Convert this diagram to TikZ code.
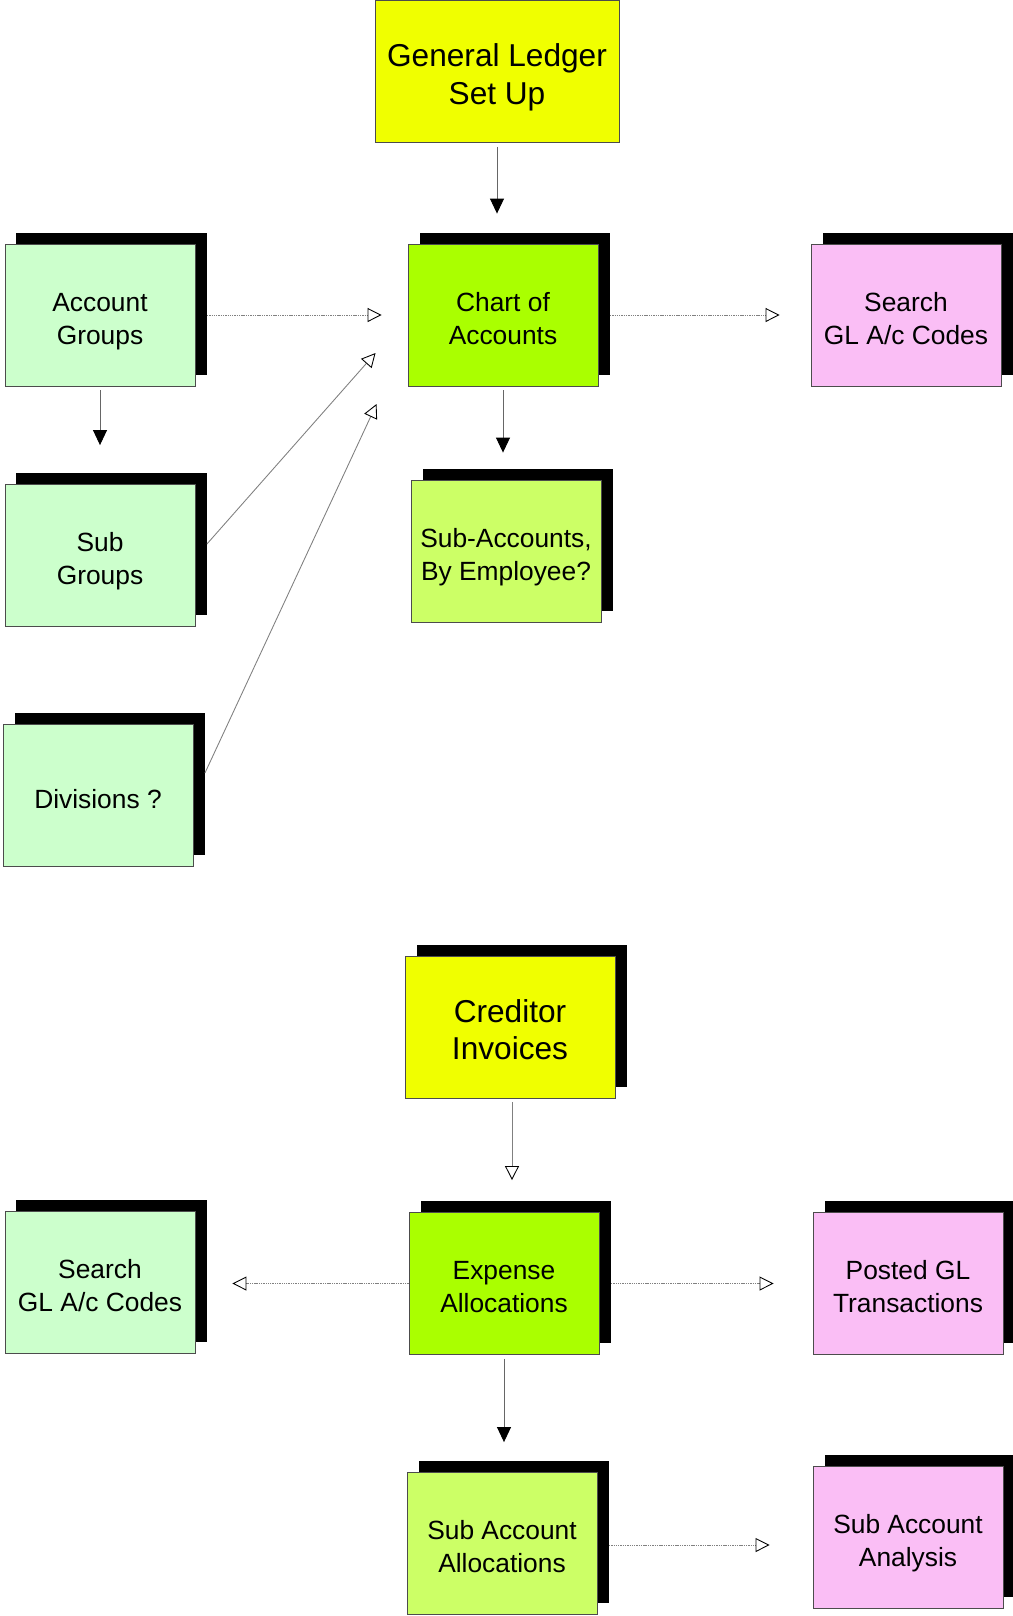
\documentclass[tikz,border=0pt]{standalone}
\usepackage{fontspec}
\setmainfont{Liberation Sans}
\usetikzlibrary{arrows.meta,shadows}
\definecolor{setupyellow}{RGB}{240,255,0}
\definecolor{chartgreen}{RGB}{170,255,0}
\definecolor{palegreen}{RGB}{204,255,204}
\definecolor{limegreen}{RGB}{204,255,102}
\definecolor{outputpink}{RGB}{250,190,245}
\begin{document}
\begin{tikzpicture}[
        card/.style={draw=black!70, line width=0.5pt, minimum width=3.8cm, minimum height=2.84cm,
            align=center, inner sep=0pt, font=\fontsize{15}{19}\selectfont,
            text height=37pt, text depth=3.5pt},
        oneline/.style={text height=18pt},
        bigcard/.style={card, font=\fontsize{18}{21.6}\selectfont, text height=41.7pt, text depth=4.2pt},
        shadowed/.style={drop shadow={shadow xshift=0.23cm, shadow yshift=0.23cm, fill=black, opacity=1}},
        solidlink/.style={draw=black!60, line width=0.5pt, -{Triangle[length=0.3cm, width=0.28cm, color=black]}},
        openlink/.style={draw=black!50, line width=0.5pt, -{Triangle[open, length=0.28cm, width=0.28cm, color=black]}},
        dotlink/.style={openlink, dash pattern=on 0.8pt off 0.5pt}
    ]
        \useasboundingbox (0, 0) rectangle (20.26, -32.32);

        % General ledger set up
        \node[bigcard, fill=setupyellow, minimum width=4.88cm] (setup) at (9.94, -1.43) {General Ledger\\Set Up};
        \node[card, shadowed, fill=palegreen] (groups) at (2.00, -6.30) {Account\\Groups};
        \node[card, shadowed, fill=chartgreen] (chart) at (10.06, -6.30) {Chart of\\Accounts};
        \node[card, shadowed, fill=outputpink] (searchtop) at (18.12, -6.30) {Search\\GL A/c Codes};
        \node[card, shadowed, fill=palegreen] (subgroups) at (2.00, -11.11) {Sub\\Groups};
        \node[card, shadowed, fill=limegreen] (subaccounts) at (10.12, -11.02) {Sub-Accounts,\\By Employee?};
        \node[card, oneline, shadowed, fill=palegreen] (divisions) at (1.96, -15.91) {Divisions ?};

        \draw[solidlink, shorten <=0.08cm, shorten >=0.6cm] (setup.south) -- (setup.south |- chart.north);
        \draw[dotlink, shorten >=0.52cm] ([xshift=0.23cm]groups.east) -- (chart.west);
        \draw[dotlink, shorten >=0.62cm] ([xshift=0.23cm]chart.east) -- (searchtop.west);
        \draw[solidlink, shorten <=0.08cm, shorten >=0.78cm] (groups.south) -- (groups.south |- subgroups.north);
        \draw[solidlink, shorten <=0.08cm, shorten >=0.54cm] (chart.south) -- (chart.south |- subaccounts.north);
        \draw[openlink] ([shift={(0.23, 0.23)}]subgroups.east) -- ([shift={(-0.64, -0.76)}]chart.west);
        \draw[openlink] ([shift={(0.23, 0.45)}]divisions.east) -- ([shift={(-0.62, -1.78)}]chart.west);

        % Creditor invoices
        \node[bigcard, shadowed, fill=setupyellow, minimum width=4.2cm] (invoices) at (10.20, -20.54) {Creditor\\Invoices};
        \node[card, shadowed, fill=palegreen] (searchbottom) at (2.00, -25.64) {Search\\GL A/c Codes};
        \node[card, shadowed, fill=chartgreen] (expense) at (10.08, -25.67) {Expense\\Allocations};
        \node[card, shadowed, fill=outputpink] (posted) at (18.16, -25.67) {Posted GL\\Transactions};
        \node[card, shadowed, fill=limegreen] (suballoc) at (10.04, -30.87) {Sub Account\\Allocations};
        \node[card, shadowed, fill=outputpink] (analysis) at (18.16, -30.75) {Sub Account\\Analysis};

        \draw[openlink, shorten <=0.08cm, shorten >=0.64cm] ([xshift=0.04cm]invoices.south) -- ([xshift=0.04cm]invoices.south |- expense.north);
        \draw[dotlink, shorten >=0.74cm] (expense.west) -- (expense.west -| searchbottom.east);
        \draw[dotlink, shorten >=0.78cm] ([xshift=0.23cm]expense.east) -- (posted.west);
        \draw[solidlink, shorten <=0.08cm, shorten >=0.6cm] (expense.south) -- (expense.south |- suballoc.north);
        \draw[dotlink, shorten >=0.86cm] ([shift={(0.23, -0.03)}]suballoc.east) -- ([yshift=-0.03cm]suballoc.east -| analysis.west);
    \end{tikzpicture}
\end{document}
